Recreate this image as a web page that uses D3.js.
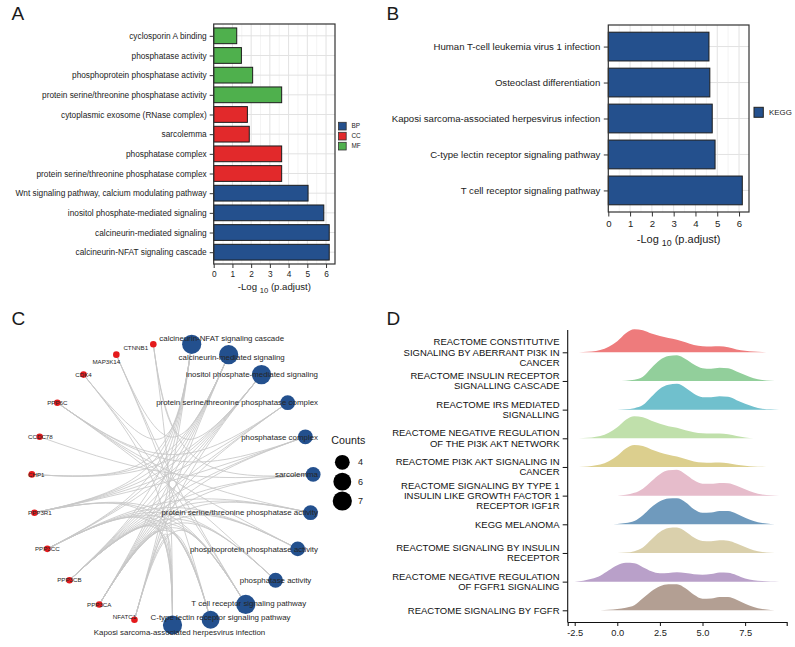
<!DOCTYPE html>
<html><head><meta charset="utf-8">
<script src="https://cdn.jsdelivr.net/npm/d3@7"></script>
<style>body{margin:0;background:#fff}svg{display:block}</style>
</head><body><svg id="c" width="795" height="647"></svg>
<script>
// ---------------- DATA ----------------
// Panel A: GO enrichment (top to bottom)
const goTerms = ["cyclosporin A binding","phosphatase activity","phosphoprotein phosphatase activity","protein serine/threonine phosphatase activity","cytoplasmic exosome (RNase complex)","sarcolemma","phosphatase complex","protein serine/threonine phosphatase complex","Wnt signaling pathway, calcium modulating pathway","inositol phosphate-mediated signaling","calcineurin-mediated signaling","calcineurin-NFAT signaling cascade"];
const goValues = [1.23,1.48,2.08,3.63,1.80,1.90,3.63,3.63,5.04,5.88,6.17,6.17];
const goOntology = ["MF","MF","MF","MF","CC","CC","CC","CC","BP","BP","BP","BP"];
const ontologyLevels = ["BP","CC","MF"];
// Panel B: KEGG enrichment (top to bottom)
const keggTerms = ["Human T-cell leukemia virus 1 infection","Osteoclast differentiation","Kaposi sarcoma-associated herpesvirus infection","C-type lectin receptor signaling pathway","T cell receptor signaling pathway"];
const keggValues = [4.62,4.66,4.77,4.90,6.15];
const barTicks = [0,1,2,3,4,5,6];
// Panel C: gene-concept network (circular order)
const netTerms = ["Kaposi sarcoma-associated herpesvirus infection","C-type lectin receptor signaling pathway","T cell receptor signaling pathway","phosphatase activity","phosphoprotein phosphatase activity","protein serine/threonine phosphatase activity","sarcolemma","phosphatase complex","protein serine/threonine phosphatase complex","inositol phosphate-mediated signaling","calcineurin-mediated signaling","calcineurin-NFAT signaling cascade"];
const netGenes = ["CTNNB1","MAP3K14","CDK4","PPP6C","CCDC78","CHP1","PPP3R1","PPP3CC","PPP3CB","PPP3CA","NFATC1"];
const netTermGenes = [
  ["PPP3CA","PPP3CB","PPP3CC","PPP3R1","NFATC1","CTNNB1","CDK4"],
  ["PPP3CA","PPP3CB","PPP3CC","PPP3R1","NFATC1","MAP3K14"],
  ["PPP3CA","PPP3CB","PPP3CC","PPP3R1","NFATC1","MAP3K14","CDK4"],
  ["PPP3CA","PPP3CB","PPP3CC","PPP6C"],
  ["PPP3CA","PPP3CB","PPP3CC","PPP6C"],
  ["PPP3CA","PPP3CB","PPP3CC","PPP6C"],
  ["PPP3CA","PPP3CB","CCDC78","CTNNB1"],
  ["PPP3CA","PPP3CB","PPP3R1","PPP6C"],
  ["PPP3CA","PPP3CB","PPP3R1","PPP6C"],
  ["PPP3CA","PPP3CB","PPP3CC","PPP3R1","CHP1","NFATC1","CTNNB1"],
  ["PPP3CA","PPP3CB","PPP3CC","PPP3R1","CHP1","NFATC1","MAP3K14"],
  ["PPP3CA","PPP3CB","PPP3CC","PPP3R1","CHP1","NFATC1","CDK4"]
];
const countLegend = [4,6,7];
// Panel D: ridgeline densities (top to bottom), sampled on ridgeX
const ridgeNames = ["REACTOME CONSTITUTIVE SIGNALING BY ABERRANT PI3K IN CANCER","REACTOME INSULIN RECEPTOR SIGNALLING CASCADE","REACTOME IRS MEDIATED SIGNALLING","REACTOME NEGATIVE REGULATION OF THE PI3K AKT NETWORK","REACTOME PI3K AKT SIGNALING IN CANCER","REACTOME SIGNALING BY TYPE 1 INSULIN LIKE GROWTH FACTOR 1 RECEPTOR IGF1R","KEGG MELANOMA","REACTOME SIGNALING BY INSULIN RECEPTOR","REACTOME NEGATIVE REGULATION OF FGFR1 SIGNALING","REACTOME SIGNALING BY FGFR"];
const ridgeX = [-2.5,-2,-1.5,-1,-0.5,0,0.5,1,1.5,2,2.5,3,3.5,4,4.5,5,5.5,6,6.5,7,7.5,8,8.5,9,9.5];
const ridgeDensity = [
  [0,0.003,0.008,0.022,0.055,0.11,0.19,0.23,0.22,0.188,0.163,0.143,0.125,0.10,0.073,0.06,0.058,0.06,0.05,0.028,0.015,0.008,0.004,0.0015,0],
  [0,0,0,0,0,0,0.003,0.012,0.042,0.13,0.21,0.25,0.258,0.22,0.165,0.128,0.123,0.133,0.128,0.095,0.06,0.028,0.009,0.003,0],
  [0,0,0,0,0,0,0.005,0.015,0.046,0.13,0.21,0.25,0.258,0.22,0.16,0.125,0.123,0.133,0.128,0.095,0.06,0.03,0.01,0.003,0],
  [0,0.002,0.008,0.022,0.055,0.11,0.185,0.22,0.21,0.175,0.145,0.12,0.105,0.08,0.06,0.05,0.048,0.048,0.04,0.022,0.008,0.001,0,0,0],
  [0,0.003,0.01,0.024,0.058,0.112,0.185,0.22,0.21,0.175,0.145,0.123,0.105,0.08,0.055,0.045,0.043,0.044,0.038,0.023,0.012,0.005,0.002,0,0],
  [0,0,0,0,0,0,0.008,0.028,0.07,0.145,0.215,0.253,0.258,0.215,0.155,0.12,0.118,0.126,0.125,0.10,0.065,0.032,0.012,0.003,0],
  [0,0,0,0,0,0.004,0.012,0.032,0.09,0.17,0.23,0.258,0.26,0.22,0.15,0.115,0.118,0.134,0.132,0.105,0.065,0.032,0.012,0.003,0],
  [0,0,0,0,0,0,0.004,0.018,0.055,0.135,0.21,0.25,0.254,0.215,0.155,0.12,0.118,0.127,0.123,0.095,0.06,0.028,0.01,0.003,0],
  [0,0.01,0.03,0.06,0.115,0.165,0.19,0.185,0.145,0.105,0.085,0.087,0.093,0.086,0.075,0.07,0.076,0.092,0.088,0.065,0.032,0.015,0.006,0.002,0],
  [0,0,0,0,0.005,0.012,0.026,0.05,0.12,0.19,0.24,0.26,0.26,0.22,0.155,0.115,0.118,0.134,0.132,0.105,0.065,0.032,0.012,0.003,0]
];
const ridgeTicks = [-2.5,0,2.5,5,7.5];

// ---------------- STYLE ----------------
const FONT = '"Liberation Sans", Arial, Helvetica, sans-serif';
const ontColor = {BP:"#24508d", CC:"#e2292b", MF:"#4fb04d"};
const termBlue = "#23508e", geneRed = "#e41a1c";
const ridgeColors = ["#ee7b7c","#92cf9b","#70c0cd","#c0e0ab","#dccf8e","#e6bccb","#6f9abd","#dad0ac","#b9a0c9","#b39f93"];
const txt = "#222";

const svg = d3.select("#c").attr("font-family", FONT);

function letter(t, x, y){
  svg.append("text").attr("x",x).attr("y",y).attr("font-size",19).attr("fill","#1a1a1a").text(t);
}
letter("A",11.5,19.5); letter("B",386.5,20); letter("C",11.5,325); letter("D",386.5,325);

// ---------------- BAR PANELS ----------------
function barPanel(o){
  const g = svg.append("g");
  const x = d3.scaleLinear().domain([0, d3.max(o.values)*1.05]).range([o.x0, o.x1]);
  const y = d3.scalePoint().domain(o.terms).range([o.y0, o.y1]).padding(0.6);
  const step = y.step();
  const minor = d3.range(0.5, x.domain()[1], 1);
  g.selectAll(".gmin").data(minor).join("line")
    .attr("x1",d=>x(d)).attr("x2",d=>x(d)).attr("y1",o.y0).attr("y2",o.y1)
    .attr("stroke","#ececec").attr("stroke-width",0.6);
  g.selectAll(".gmaj").data(barTicks).join("line")
    .attr("x1",d=>x(d)).attr("x2",d=>x(d)).attr("y1",o.y0).attr("y2",o.y1)
    .attr("stroke","#e2e2e2").attr("stroke-width",1);
  g.selectAll(".gh").data(o.terms).join("line")
    .attr("x1",o.x0).attr("x2",o.x1).attr("y1",d=>y(d)).attr("y2",d=>y(d))
    .attr("stroke","#e2e2e2").attr("stroke-width",1);
  g.selectAll(".bar").data(o.terms).join("rect")
    .attr("x",x(0)).attr("y",d=>y(d)-step*0.4)
    .attr("width",(d,i)=>x(o.values[i])-x(0)).attr("height",step*0.8)
    .attr("fill",(d,i)=>o.colors[i]).attr("stroke","#1c1c1c").attr("stroke-width",1);
  g.append("rect").attr("x",o.x0).attr("y",o.y0).attr("width",o.x1-o.x0).attr("height",o.y1-o.y0)
    .attr("fill","none").attr("stroke","#333").attr("stroke-width",1.2);
  const ax = g.append("g").attr("transform",`translate(0,${o.y1})`)
    .call(d3.axisBottom(x).tickValues(barTicks).tickFormat(d3.format("d")).tickSize(o.tick).tickPadding(o.pad));
  ax.select(".domain").remove();
  ax.attr("font-family",FONT).attr("font-size",o.fs);
  ax.selectAll("line").attr("stroke","#333");
  ax.selectAll("text").attr("fill",txt);
  const ay = g.append("g").attr("transform",`translate(${o.x0},0)`)
    .call(d3.axisLeft(y).tickSize(o.tick).tickPadding(o.pad-0.5));
  ay.select(".domain").remove();
  ay.attr("font-family",FONT).attr("font-size",o.fs);
  ay.selectAll("line").attr("stroke","#333");
  ay.selectAll("text").attr("fill",txt);
  const t = g.append("text").attr("x",(o.x0+o.x1)/2).attr("y",o.titleY)
    .attr("text-anchor","middle").attr("font-size",o.tfs).attr("fill",txt);
  t.append("tspan").text("-Log ");
  t.append("tspan").attr("dy",o.tfs*0.3).attr("font-size",o.tfs*0.8).text("10");
  t.append("tspan").attr("dy",-o.tfs*0.3).text(" (p.adjust)");
  return g;
}

barPanel({terms:goTerms, values:goValues, colors:goOntology.map(c=>ontColor[c]),
  x0:213.7, x1:335, y0:24, y1:264, tick:4, pad:3.5, fs:8.3, tfs:9.6, titleY:290});
barPanel({terms:keggTerms, values:keggValues, colors:keggTerms.map(()=>ontColor.BP),
  x0:608.3, x1:749, y0:25, y1:212, tick:4.5, pad:4, fs:9.6, tfs:11, titleY:243});

const legA = svg.append("g");
legA.selectAll("rect").data(ontologyLevels).join("rect")
  .attr("x",338.5).attr("y",(d,i)=>122.3+i*10).attr("width",7.7).attr("height",7.7)
  .attr("fill",d=>ontColor[d]).attr("stroke","#333").attr("stroke-width",0.8);
legA.selectAll("text").data(ontologyLevels).join("text")
  .attr("x",351.5).attr("y",(d,i)=>126.2+i*10).attr("dy","0.35em")
  .attr("font-size",6.4).attr("fill",txt).text(d=>d);
const legB = svg.append("g");
legB.append("rect").attr("x",754).attr("y",107.3).attr("width",9.3).attr("height",10)
  .attr("fill",ontColor.BP).attr("stroke","#222").attr("stroke-width",1);
legB.append("text").attr("x",769).attr("y",112.3).attr("dy","0.35em").attr("font-size",7.9).attr("fill",txt).text("KEGG");

// ---------------- NETWORK (C) ----------------
(function(){
  const g = svg.append("g");
  const cx = 172.5, cy = 484, R = 141;
  const nodes = netTerms.map((t,i)=>({name:t, type:"term", count:netTermGenes[i].length}))
    .concat(netGenes.map(gn=>({name:gn, type:"gene"})));
  const n = nodes.length;
  const angle = d3.scaleLinear().domain([0,n]).range([-Math.PI/2, 3*Math.PI/2]);
  nodes.forEach((d,i)=>{ d.x = cx + R*Math.cos(angle(i)); d.y = cy - R*Math.sin(angle(i)); });
  const byName = new Map(nodes.map(d=>[d.name,d]));
  const links = [];
  netTerms.forEach((t,i)=>netTermGenes[i].forEach(gn=>links.push({s:byName.get(gn), t:byName.get(t)})));
  const sizeArea = d3.scaleLinear().domain([4,7]).range([7.4*7.4, 9.6*9.6]);
  const rOf = d => d.type==="term" ? Math.sqrt(sizeArea(d.count)) : 3.3;
  const k = 0.85; // control points pulled toward centre
  g.selectAll("path.edge").data(links).join("path")
    .attr("d", d=>{
      const c1x = d.s.x + (cx-d.s.x)*k, c1y = d.s.y + (cy-d.s.y)*k;
      const c2x = d.t.x + (cx-d.t.x)*k, c2y = d.t.y + (cy-d.t.y)*k;
      return `M${d.s.x},${d.s.y}C${c1x},${c1y} ${c2x},${c2y} ${d.t.x},${d.t.y}`;
    })
    .attr("fill","none").attr("stroke","#c8c8c8").attr("stroke-width",1).attr("stroke-opacity",0.85);
  g.selectAll("circle.node").data(nodes).join("circle")
    .attr("cx",d=>d.x).attr("cy",d=>d.y).attr("r",rOf)
    .attr("fill",d=>d.type==="term"?termBlue:geneRed);
  const nudge = {"calcineurin-NFAT signaling cascade":[30,-5.6],"calcineurin-mediated signaling":[3,2.7],
    "T cell receptor signaling pathway":[3,-1.6],"C-type lectin receptor signaling pathway":[10,-3],
    "Kaposi sarcoma-associated herpesvirus infection":[7,7.4],"CTNNB1":[-17.5,3.4],"MAP3K14":[-10,7.4],"NFATC1":[-10,-3]};
  const lab = g.selectAll("text.lab").data(nodes).join("text")
    .attr("font-size",d=>d.type==="term"?7.9:6.2).attr("fill","#262626")
    .attr("text-anchor","middle").attr("dy","0.35em").text(d=>d.name);
  lab.each(function(d){
    const w = this.getComputedTextLength();
    const nd = nudge[d.name] || [0,0];
    let xc = d.x + nd[0];
    xc = Math.min(xc, 318 - w/2); xc = Math.max(xc, 28 + w/2);
    d3.select(this).attr("x", xc).attr("y", d.y + nd[1]);
  });
  const lg = g.append("g");
  lg.append("text").attr("x",348.3).attr("y",443.5).attr("text-anchor","middle").attr("font-size",10.7).attr("fill",txt).text("Counts");
  const ly = d3.scalePoint().domain(countLegend).range([462.3,501]);
  lg.selectAll("circle").data(countLegend).join("circle")
    .attr("cx",342.3).attr("cy",d=>ly(d)).attr("r",d=>Math.sqrt(sizeArea(d))).attr("fill","#000");
  lg.selectAll("text.v").data(countLegend).join("text")
    .attr("x",358).attr("y",d=>ly(d)).attr("dy","0.35em").attr("font-size",9).attr("fill",txt).text(d=>d);
})();

// ---------------- RIDGES (D) ----------------
(function(){
  const g = svg.append("g");
  const x = d3.scaleLinear().domain([-2.91, 9.94]).range([567.7, 786.7]);
  const y = d3.scalePoint().domain(ridgeNames).range([352.3, 610.3]);
  const h = d3.scaleLinear().domain([0, 0.26]).range([0, 26]);
  ridgeNames.forEach((name,i)=>{
    const base = y(name);
    const area = d3.area().x((d,j)=>x(ridgeX[j])).y0(base).y1(d=>base - h(d)).curve(d3.curveMonotoneX);
    g.append("path").datum(ridgeDensity[i]).attr("d",area).attr("fill",ridgeColors[i]);
  });
  g.append("line").attr("x1",567.7).attr("x2",567.7).attr("y1",330).attr("y2",622.5).attr("stroke","#111").attr("stroke-width",1.1);
  const ax = g.append("g").attr("transform","translate(0,622)")
    .call(d3.axisBottom(x).tickValues(ridgeTicks).tickFormat(d=>d.toFixed(1)).tickSize(4).tickPadding(3));
  ax.attr("font-family",FONT).attr("font-size",9.3);
  ax.select(".domain").attr("stroke","#111").attr("stroke-width",1.1);
  ax.selectAll("line").attr("stroke","#111");
  ax.selectAll("text").attr("fill",txt);
  const ay = g.append("g").attr("transform","translate(567.7,0)")
    .call(d3.axisLeft(y).tickSize(5).tickFormat(""));
  ay.select(".domain").remove();
  ay.selectAll("line").attr("stroke","#111");
  function wrap(s, width){
    const words = s.split(" "), lines = []; let cur = "";
    words.forEach(w=>{ const t = cur ? cur+" "+w : w; if (t.length > width && cur){ lines.push(cur); cur = w; } else cur = t; });
    if (cur) lines.push(cur); return lines;
  }
  const lh = 10.3;
  ridgeNames.forEach(name=>{
    const lines = wrap(name, 30);
    const t = g.append("text").attr("text-anchor","end").attr("font-size",9.5).attr("fill","#111");
    lines.forEach((ln,k)=>{
      t.append("tspan").attr("x",559.5).attr("y", y(name) + (k - (lines.length-1)/2)*lh).attr("dy","0.35em").text(ln);
    });
  });
})();
</script></body></html>
